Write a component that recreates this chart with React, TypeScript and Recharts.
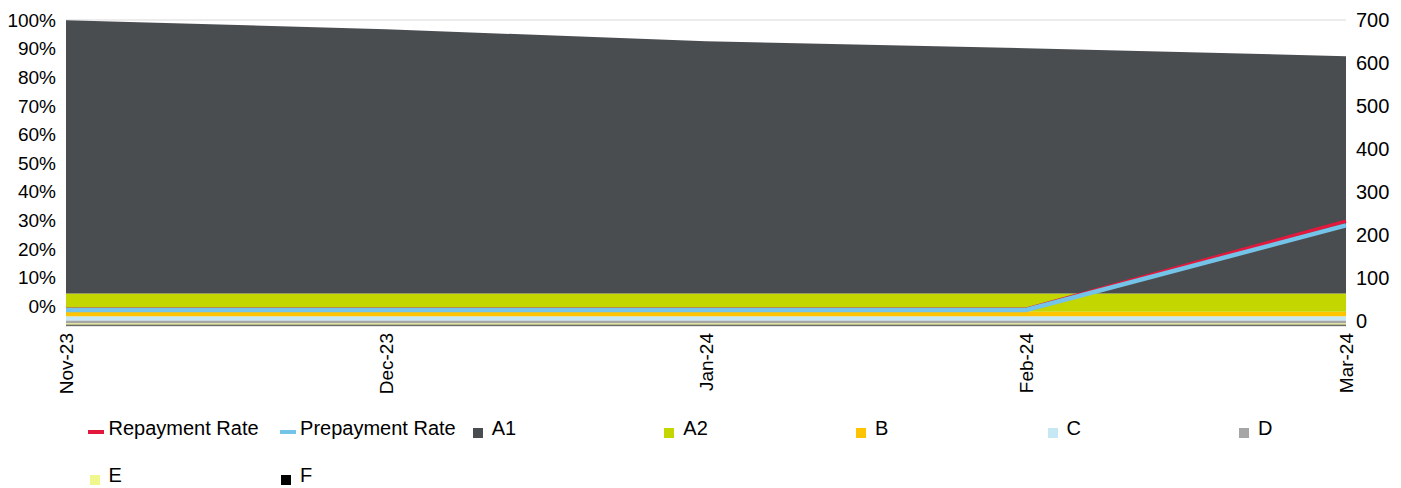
import React from 'react';
import {
  ComposedChart,
  Area,
  Line,
  XAxis,
  YAxis,
  CartesianGrid,
} from 'recharts';

const months = ['Nov-23', 'Dec-23', 'Jan-24', 'Feb-24', 'Mar-24'];

// stacked bands, in points of the left % scale (fill runs from the axis floor)
const a1 = [95.6, 92.4, 88.2, 85.8, 83.0];
const a2 = [6.4, 6.4, 6.4, 6.4, 6.4];
const b = [1.5, 1.5, 1.5, 1.5, 1.5];
const c = [1.5, 1.5, 1.5, 1.5, 1.5];
const d = [0.95, 0.95, 0.95, 0.95, 0.95];
const e = [0.5, 0.5, 0.5, 0.5, 0.5];
const f = [0.5, 0.5, 0.5, 0.5, 0.5];

// rates, right axis
const repaymentRate = [27, 27, 27, 27, 232];
const prepaymentRate = [25.5, 25.5, 25.5, 25.5, 222];

const leftTicks = [0, 10, 20, 30, 40, 50, 60, 70, 80, 90, 100];
const rightTicks = [0, 100, 200, 300, 400, 500, 600, 700];

const colors = {
  repayment: '#e2183d',
  prepayment: '#74c3e8',
  A1: '#4a4d50',
  A2: '#c4d600',
  B: '#ffc400',
  C: '#c6e7f4',
  D: '#a6a6a6',
  E: '#f0f78c',
  F: '#000000',
};

const data = months.map((month, i) => ({
  month,
  A1: a1[i],
  A2: a2[i],
  B: b[i],
  C: c[i],
  D: d[i],
  E: e[i],
  F: f[i],
  repayment: repaymentRate[i],
  prepayment: prepaymentRate[i],
}));

// bottom of stack first
const stackKeys = ['F', 'E', 'D', 'C', 'B', 'A2', 'A1'] as const;

const legendItems = [
  { name: 'Repayment Rate', color: colors.repayment, kind: 'line' },
  { name: 'Prepayment Rate', color: colors.prepayment, kind: 'line' },
  { name: 'A1', color: colors.A1, kind: 'square' },
  { name: 'A2', color: colors.A2, kind: 'square' },
  { name: 'B', color: colors.B, kind: 'square' },
  { name: 'C', color: colors.C, kind: 'square' },
  { name: 'D', color: colors.D, kind: 'square' },
  { name: 'E', color: colors.E, kind: 'square' },
  { name: 'F', color: colors.F, kind: 'square' },
];

const FONT = "'Liberation Sans', Arial, sans-serif";

function XTick(props: any) {
  const { x, y, payload } = props;
  return (
    <text
      x={x}
      y={y}
      transform={`rotate(-90 ${x} ${y})`}
      textAnchor="end"
      dominantBaseline="central"
      fontSize={19}
      fontFamily={FONT}
      fill="#000"
    >
      {payload.value}
    </text>
  );
}

function ChartLegend() {
  const colW = 191.6;
  const rows = [418, 465];
  return (
    <>
      {legendItems.map((item, i) => {
        const col = i % 7;
        const row = Math.floor(i / 7);
        const left = 88 + col * colW;
        const top = rows[row];
        return (
          <div key={item.name}>
            {item.kind === 'line' ? (
              <div
                style={{
                  position: 'absolute',
                  left,
                  top: top + 12,
                  width: 16,
                  height: 4,
                  background: item.color,
                }}
              />
            ) : (
              <div
                style={{
                  position: 'absolute',
                  left: left + 1.5,
                  top: top + 10,
                  width: 10,
                  height: 10,
                  background: item.color,
                }}
              />
            )}
            <div
              style={{
                position: 'absolute',
                left: left + 20.5,
                top,
                fontSize: 20,
                lineHeight: '20px',
                whiteSpace: 'nowrap',
                color: '#000',
              }}
            >
              {item.name}
            </div>
          </div>
        );
      })}
    </>
  );
}

export default function App() {
  return (
    <div
      style={{
        position: 'absolute',
        left: 0,
        top: 0,
        width: 1401,
        height: 488,
        background: '#fff',
        fontFamily: FONT,
        overflow: 'hidden',
      }}
    >
      <ComposedChart
        width={1401}
        height={420}
        data={data}
        margin={{ top: 20, right: 0, bottom: 0, left: 0 }}
      >
        <CartesianGrid yAxisId="right" vertical={false} stroke="#d9d9d9" />
        <XAxis
          dataKey="month"
          scale="point"
          padding={{ left: 0, right: 0 }}
          height={94}
          interval={0}
          tickLine={false}
          tickSize={0}
          tickMargin={7}
          axisLine={{ stroke: '#d9d9d9' }}
          tick={(p: any) => <XTick {...p} />}
        />
        <YAxis
          yAxisId="left"
          width={66}
          domain={[-7, 100]}
          ticks={leftTicks}
          allowDataOverflow
          interval={0}
          axisLine={false}
          tickLine={false}
          tickSize={0}
          tickMargin={10}
          tickFormatter={(v) => `${v}%`}
          tick={{ fontSize: 19, fill: '#000', fontFamily: FONT }}
        />
        <YAxis
          yAxisId="right"
          orientation="right"
          width={55}
          domain={[-12, 700]}
          ticks={rightTicks}
          allowDataOverflow
          interval={0}
          axisLine={false}
          tickLine={false}
          tickSize={0}
          tickMargin={10}
          tick={{ fontSize: 20, fill: '#000', fontFamily: FONT }}
        />
        <YAxis yAxisId="stack" hide domain={[0, 107]} allowDataOverflow />
        {stackKeys.map((k) => (
          <Area
            key={k}
            yAxisId="stack"
            stackId="bands"
            type="linear"
            dataKey={k}
            stroke="none"
            fill={colors[k]}
            fillOpacity={1}
            isAnimationActive={false}
          />
        ))}
        <Line
          yAxisId="right"
          type="linear"
          dataKey="repayment"
          stroke={colors.repayment}
          strokeWidth={3.5}
          dot={false}
          isAnimationActive={false}
        />
        <Line
          yAxisId="right"
          type="linear"
          dataKey="prepayment"
          stroke={colors.prepayment}
          strokeWidth={4.5}
          dot={false}
          isAnimationActive={false}
        />
      </ComposedChart>
      <ChartLegend />
    </div>
  );
}
